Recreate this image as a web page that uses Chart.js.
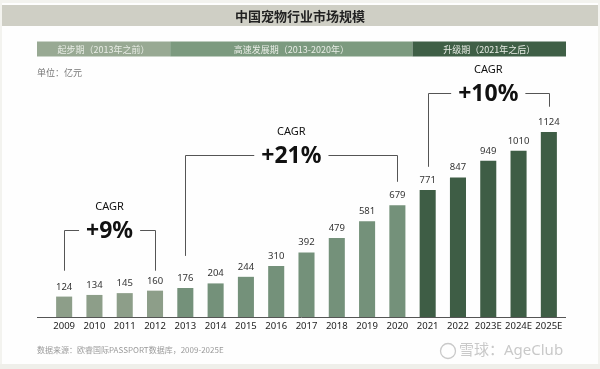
<!DOCTYPE html>
<html><head><meta charset="utf-8">
<script src="https://cdn.jsdelivr.net/npm/chart.js@4"></script>
<style>
html,body{margin:0;padding:0;background:#f3f3ef;}
#wrap{position:relative;width:600px;height:369px;overflow:hidden;}
canvas{position:absolute;left:0;top:0;}
</style></head>
<body><div id="wrap"><canvas id="c" width="600" height="369"></canvas></div>
<script>
const categories = ['2009','2010','2011','2012','2013','2014','2015','2016','2017','2018','2019','2020','2021','2022','2023E','2024E','2025E'];
const marketSize = [124,134,145,160,176,204,244,310,392,479,581,679,771,847,949,1010,1124];
const phaseOfYear = [0,0,0,0,1,1,1,1,1,1,1,1,2,2,2,2,2];
const phaseNames = ['起步期（2013年之前）','高速发展期（2013-2020年）','升级期（2021年之后）'];
const phaseColors = ['#98a993','#7c9a7f','#3f5f46'];
const barColors = ['#8d9e89','#74917a','#3e5d45'];
// CAGR brackets: from category index, to category index, bracket level, left end, right end (in value units), label
const cagrFrom = [0,4,12];
const cagrTo = [3,11,16];
const cagrLevel = [529,985,1362];
const cagrLeftEnd = [281,371,912];
const cagrRightEnd = [281,821,1277];
const cagrText = ['+9%','+21%','+10%'];
const titleText = '中国宠物行业市场规模';
const unitText = '单位：亿元';
const sourceText = '数据来源：欧睿国际PASSPORT数据库，2009-2025E';
const watermarkText = '雪球：AgeClub';

const FONT = '"Noto Sans", "Noto Sans CJK SC", sans-serif';
const CJK = '"Noto Sans CJK SC", sans-serif';

const deco = {
  id:'deco',
  beforeDraw(chart){
    const ctx = chart.ctx;
    ctx.save();
    ctx.fillStyle = '#fefefe';
    ctx.fillRect(2,3,596,361);
    ctx.fillStyle = '#efefea';
    ctx.fillRect(0,364,600,5);
    ctx.fillStyle = '#cfcfc5';
    ctx.fillRect(2,5,596,21);
    ctx.fillStyle = '#222';
    ctx.font = 'bold 13px ' + CJK;
    ctx.textAlign = 'center'; ctx.textBaseline = 'middle';
    ctx.fillText(titleText, 300, 16);
    const xs = chart.scales.x;
    const half = (xs.getPixelForValue(1) - xs.getPixelForValue(0)) / 2;
    const bounds = [37];
    for (let i = 1; i < phaseOfYear.length; i++) {
      if (phaseOfYear[i] !== phaseOfYear[i-1]) bounds.push(xs.getPixelForValue(i) - half);
    }
    bounds.push(566);
    ctx.font = '9px ' + CJK;
    for (let p = 0; p < phaseNames.length; p++) {
      ctx.fillStyle = phaseColors[p];
      ctx.fillRect(bounds[p], 41.5, bounds[p+1]-bounds[p], 15);
      ctx.fillStyle = '#e9ede6';
      ctx.fillText(phaseNames[p], (bounds[p]+bounds[p+1])/2, 49.5);
    }
    ctx.fillStyle = '#777';
    ctx.textAlign = 'left';
    ctx.font = '9px ' + CJK;
    ctx.fillText(unitText, 37, 73);
    ctx.fillStyle = '#9a9a9a';
    ctx.font = '8px ' + CJK;
    ctx.fillText(sourceText, 37, 350);
    ctx.fillStyle = '#c9c9c9';
    ctx.strokeStyle = '#c9c9c9';
    ctx.lineWidth = 1.3;
    ctx.beginPath(); ctx.arc(448, 351, 7.5, 0, Math.PI*2); ctx.stroke();
    ctx.font = '15px ' + FONT;
    ctx.fillText(watermarkText, 459, 351);
    ctx.restore();
  },
  afterDatasetsDraw(chart){
    const ctx = chart.ctx;
    const xs = chart.scales.x, ys = chart.scales.y;
    const meta = chart.getDatasetMeta(0);
    ctx.save();
    ctx.strokeStyle = '#555';
    ctx.lineWidth = 1;
    ctx.beginPath();
    ctx.moveTo(37, ys.getPixelForValue(0)+0.5);
    ctx.lineTo(566, ys.getPixelForValue(0)+0.5);
    ctx.stroke();
    ctx.fillStyle = '#333';
    ctx.font = '9.5px ' + FONT;
    ctx.textAlign = 'center'; ctx.textBaseline = 'bottom';
    meta.data.forEach((bar, i) => {
      ctx.fillText(String(marketSize[i]), bar.x, bar.y - 5);
    });
    for (let k = 0; k < cagrText.length; k++) {
      const x1 = xs.getPixelForValue(cagrFrom[k]);
      const x2 = xs.getPixelForValue(cagrTo[k]);
      const yl = Math.round(ys.getPixelForValue(cagrLevel[k])) + 0.5;
      const cx = (x1 + x2) / 2;
      ctx.font = 'bold 23px ' + FONT;
      const tw = ctx.measureText(cagrText[k]).width;
      const gap = tw/2 + 7;
      ctx.strokeStyle = '#555';
      ctx.lineWidth = 1;
      ctx.beginPath();
      ctx.moveTo(Math.round(x1)+0.5, ys.getPixelForValue(cagrLeftEnd[k]));
      ctx.lineTo(Math.round(x1)+0.5, yl);
      ctx.lineTo(cx - gap, yl);
      ctx.moveTo(cx + gap, yl);
      ctx.lineTo(Math.round(x2)+0.5, yl);
      ctx.lineTo(Math.round(x2)+0.5, ys.getPixelForValue(cagrRightEnd[k]));
      ctx.stroke();
      ctx.fillStyle = '#111';
      ctx.textBaseline = 'middle';
      ctx.fillText(cagrText[k], cx, yl + 1);
      ctx.font = '11px ' + FONT;
      ctx.fillText('CAGR', cx, yl - 24);
    }
    ctx.restore();
  }
};

new Chart(document.getElementById('c'), {
  type:'bar',
  data:{
    labels: categories,
    datasets:[{
      data: marketSize,
      backgroundColor: phaseOfYear.map(p => barColors[p]),
      borderWidth:0,
      categoryPercentage:1,
      barPercentage:0.53
    }]
  },
  options:{
    responsive:false,
    animation:false,
    devicePixelRatio:1,
    layout:{padding:{left:49,right:36,top:70,bottom:0}},
    plugins:{legend:{display:false},tooltip:{enabled:false},title:{display:false}},
    scales:{
      x:{
        grid:{display:false,drawTicks:false},
        border:{display:false},
        ticks:{color:'#222',font:{family:FONT,size:9.5},padding:4,maxRotation:0,autoSkip:false},
        afterFit(s){ s.height = 52; }
      },
      y:{display:false,min:0,max:1500}
    }
  },
  plugins:[deco]
});
</script>
</body></html>
